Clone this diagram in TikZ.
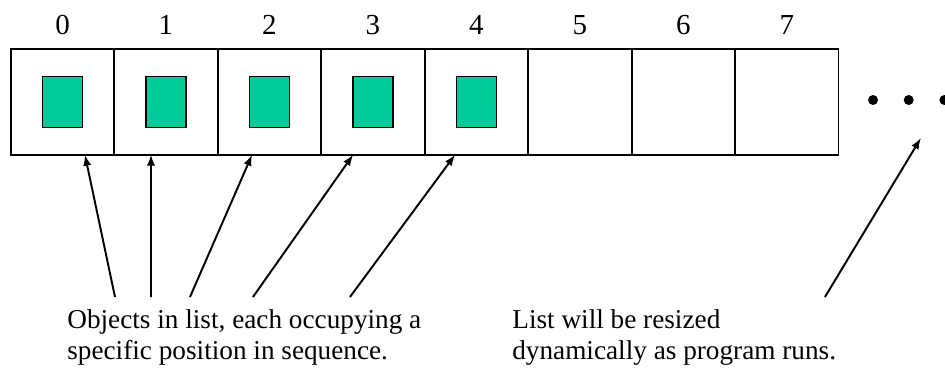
\documentclass[tikz,border=0pt]{standalone}
\usepackage{fontspec}
\setmainfont{Liberation Serif}
\usepackage{xcolor}
\usetikzlibrary{arrows,positioning,calc}
\definecolor{itemgreen}{HTML}{00CC99}

\begin{document}
\begin{tikzpicture}[x=0.02cm, y=0.02cm,
    cell/.style={rectangle, draw=black, line width=1pt, minimum width=2.07cm, minimum height=2.12cm, inner sep=0pt, outer sep=0pt},
    item/.style={rectangle, draw=black, line width=0.9pt, fill=itemgreen, minimum width=0.8cm, minimum height=1.02cm, inner sep=0pt},
    idx/.style={font=\fontsize{16.5}{18}\selectfont, inner sep=0pt},
    dot/.style={circle, fill=black, minimum size=0.2cm, inner sep=0pt},
    note/.style={font=\fontsize{15.5}{18}\selectfont, align=left, inner sep=0pt},
    arrow/.style={draw, line width=1.1pt, -latex}
]
    \useasboundingbox (0,0) rectangle (945,369);

    % Cells (horizontal layout)
    \node[cell] (c0) at (62.5,267) {};
    \node[cell, right=0cm of c0] (c1) {};
    \node[cell, right=0cm of c1] (c2) {};
    \node[cell, right=0cm of c2] (c3) {};
    \node[cell, right=0cm of c3] (c4) {};
    \node[cell, right=0cm of c4] (c5) {};
    \node[cell, right=0cm of c5] (c6) {};
    \node[cell, right=0cm of c6] (c7) {};

    % Objects stored in the list
    \node[item] (o0) at (c0) {};
    \node[item] (o1) at (c1) {};
    \node[item] (o2) at (c2) {};
    \node[item] (o3) at (c3) {};
    \node[item] (o4) at (c4) {};

    % Indices
    \node[idx, above=0.28cm of c0] (i0) {0};
    \node[idx, above=0.28cm of c1] (i1) {1};
    \node[idx, above=0.28cm of c2] (i2) {2};
    \node[idx, above=0.28cm of c3] (i3) {3};
    \node[idx, above=0.28cm of c4] (i4) {4};
    \node[idx, above=0.28cm of c5] (i5) {5};
    \node[idx, above=0.28cm of c6] (i6) {6};
    \node[idx, above=0.28cm of c7] (i7) {7};

    % Dots
    \node[dot] (d0) at (873,269) {};
    \node[dot, right=0.5cm of d0] (d1) {};
    \node[dot, right=0.5cm of d1] (d2) {};

    % Notes
    \node[note, anchor=north west] (objnote) at (67,60) {Objects in list, each occupying a\\specific position in sequence.};
    \node[note, anchor=north west] (resnote) at (512,60) {List will be resized\\dynamically as program runs.};

    % Arrows
    \path [arrow] ([xshift=0.96cm, yshift=0.24cm]objnote.north west) -- ([xshift=0.45cm]c0.south);
    \path [arrow] ([xshift=1.68cm, yshift=0.24cm]objnote.north west) -- ([xshift=-0.3cm]c1.south);
    \path [arrow] ([xshift=2.46cm, yshift=0.24cm]objnote.north west) -- ([xshift=-0.35cm]c2.south);
    \path [arrow] ([xshift=3.72cm, yshift=0.24cm]objnote.north west) -- ([xshift=-0.4cm]c3.south);
    \path [arrow] ([xshift=5.66cm, yshift=0.24cm]objnote.north west) -- ([xshift=-0.43cm]c4.south);
    \path [arrow] ([xshift=6.26cm, yshift=0.24cm]resnote.north west) -- ([xshift=0.24cm, yshift=-0.66cm]d1.south);
\end{tikzpicture}
\end{document}
